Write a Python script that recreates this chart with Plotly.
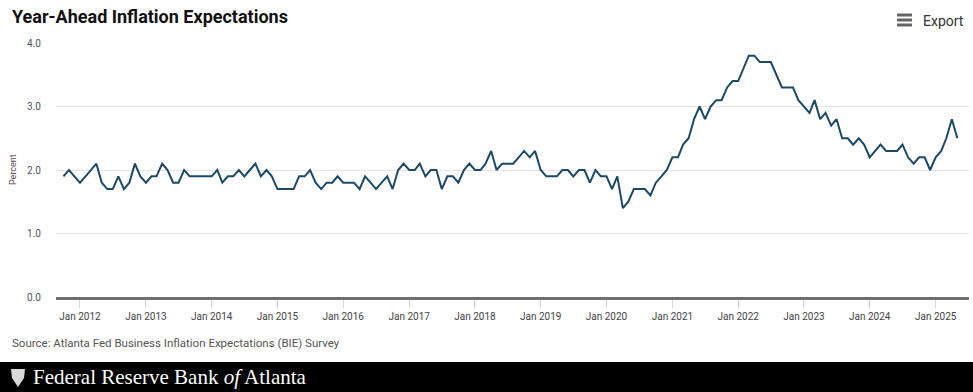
import plotly.graph_objects as go
import pandas as pd

start_month = "2011-10-01"
values = [
    # 2011 Oct-Dec
    1.9, 2.0, 1.9,
    # 2012
    1.8, 1.9, 2.0, 2.1, 1.8, 1.7, 1.7, 1.9, 1.7, 1.8, 2.1, 1.9,
    # 2013
    1.8, 1.9, 1.9, 2.1, 2.0, 1.8, 1.8, 2.0, 1.9, 1.9, 1.9, 1.9,
    # 2014
    1.9, 2.0, 1.8, 1.9, 1.9, 2.0, 1.9, 2.0, 2.1, 1.9, 2.0, 1.9,
    # 2015
    1.7, 1.7, 1.7, 1.7, 1.9, 1.9, 2.0, 1.8, 1.7, 1.8, 1.8, 1.9,
    # 2016
    1.8, 1.8, 1.8, 1.7, 1.9, 1.8, 1.7, 1.8, 1.9, 1.7, 2.0, 2.1,
    # 2017
    2.0, 2.0, 2.1, 1.9, 2.0, 2.0, 1.7, 1.9, 1.9, 1.8, 2.0, 2.1,
    # 2018
    2.0, 2.0, 2.1, 2.3, 2.0, 2.1, 2.1, 2.1, 2.2, 2.3, 2.2, 2.3,
    # 2019
    2.0, 1.9, 1.9, 1.9, 2.0, 2.0, 1.9, 2.0, 2.0, 1.8, 2.0, 1.9,
    # 2020
    1.9, 1.7, 1.9, 1.4, 1.5, 1.7, 1.7, 1.7, 1.6, 1.8, 1.9, 2.0,
    # 2021
    2.2, 2.2, 2.4, 2.5, 2.8, 3.0, 2.8, 3.0, 3.1, 3.1, 3.3, 3.4,
    # 2022
    3.4, 3.6, 3.8, 3.8, 3.7, 3.7, 3.7, 3.5, 3.3, 3.3, 3.3, 3.1,
    # 2023
    3.0, 2.9, 3.1, 2.8, 2.9, 2.7, 2.8, 2.5, 2.5, 2.4, 2.5, 2.4,
    # 2024
    2.2, 2.3, 2.4, 2.3, 2.3, 2.3, 2.4, 2.2, 2.1, 2.2, 2.2, 2.0,
    # 2025 Jan-May
    2.2, 2.3, 2.5, 2.8, 2.5,
]
dates = pd.date_range(start_month, periods=len(values), freq="MS")

y_ticks = [0, 1, 2, 3, 4]
y_tick_labels = ["0.0", "1.0", "2.0", "3.0", "4.0"]

title_text = "Year-Ahead Inflation Expectations"
source_text = "Source: Atlanta Fed Business Inflation Expectations (BIE) Survey"
footer_text = "Federal Reserve Bank <i>of</i> Atlanta"

W, H = 973, 392
ML, MR, MT, MB = 56, 4, 43, 95
PW, PH = W - ML - MR, H - MT - MB


def px(x):
    return (x - ML) / PW


def py(y):
    return (H - MB - y) / PH


fig = go.Figure()
fig.add_trace(go.Scatter(
    x=dates, y=values, mode="lines",
    line=dict(color="#1b4966", width=2),
    hoverinfo="x+y", showlegend=False,
))

shapes = [
    # footer band
    dict(type="rect", xref="paper", yref="paper", x0=px(0), x1=px(W), y0=py(362), y1=py(H),
         fillcolor="#000000", line=dict(width=0), layer="above"),
]
# export hamburger icon
for yy in (15, 20, 25):
    shapes.append(dict(type="line", xref="paper", yref="paper", x0=px(897), x1=px(912),
                       y0=py(yy), y1=py(yy), line=dict(color="#666666", width=3)))
# small logo emblem in footer
shapes.append(dict(type="path", xref="paper", yref="paper",
                   path=f"M {px(11)},{py(369)} L {px(25)},{py(369)} L {px(24)},{py(378)} L {px(18)},{py(387)} L {px(12)},{py(378)} Z",
                   fillcolor="#d9d9d9", line=dict(width=0), layer="above"))

annotations = [
    dict(text=f"<b>{title_text}</b>", x=px(10), y=py(17), xref="paper", yref="paper",
         xanchor="left", yanchor="middle", showarrow=False,
         font=dict(family="Roboto, Open Sans, sans-serif", size=18, color="#111111")),
    dict(text="Export", x=px(921), y=py(21), xref="paper", yref="paper",
         xanchor="left", yanchor="middle", showarrow=False,
         font=dict(family="Roboto, Open Sans, sans-serif", size=14, color="#333333")),
    dict(text="Percent", x=px(13), y=py(170), xref="paper", yref="paper",
         xanchor="center", yanchor="middle", showarrow=False, textangle=-90,
         font=dict(family="Roboto, Open Sans, sans-serif", size=9, color="#5a4545")),
    dict(text=source_text, x=px(10), y=py(343), xref="paper", yref="paper",
         xanchor="left", yanchor="middle", showarrow=False,
         font=dict(family="Roboto, Open Sans, sans-serif", size=11.5, color="#555555")),
    dict(text=footer_text, x=px(31), y=py(377), xref="paper", yref="paper",
         xanchor="left", yanchor="middle", showarrow=False,
         font=dict(family="Liberation Serif, DejaVu Serif, serif", size=21, color="#ffffff")),
]

fig.update_layout(
    width=W, height=H,
    margin=dict(l=ML, r=MR, t=MT, b=MB),
    paper_bgcolor="white", plot_bgcolor="white",
    shapes=shapes, annotations=annotations,
    xaxis=dict(
        type="date",
        range=["2011-08-21", "2025-07-05"],
        tick0="2012-01-01", dtick="M12", tickformat="%b %Y",
        ticks="outside", ticklen=8, tickwidth=1, tickcolor="#ccd6eb",
        showgrid=False, showline=True, linecolor="#707070", linewidth=3,
        zeroline=False,
        tickfont=dict(family="Roboto, Open Sans, sans-serif", size=10, color="#444444"),
    ),
    yaxis=dict(
        range=[0, 4], tickvals=y_ticks, ticktext=y_tick_labels,
        showgrid=True, gridcolor="#e6e6e6", gridwidth=1,
        zeroline=False, showline=False, ticks="",
        ticklabelstandoff=14,
        tickfont=dict(family="Roboto, Open Sans, sans-serif", size=10, color="#4a5566"),
    ),
)

fig.write_html("out.html", config={"displayModeBar": False},
               post_script="document.body.style.margin='0';document.body.style.overflow='hidden';")
